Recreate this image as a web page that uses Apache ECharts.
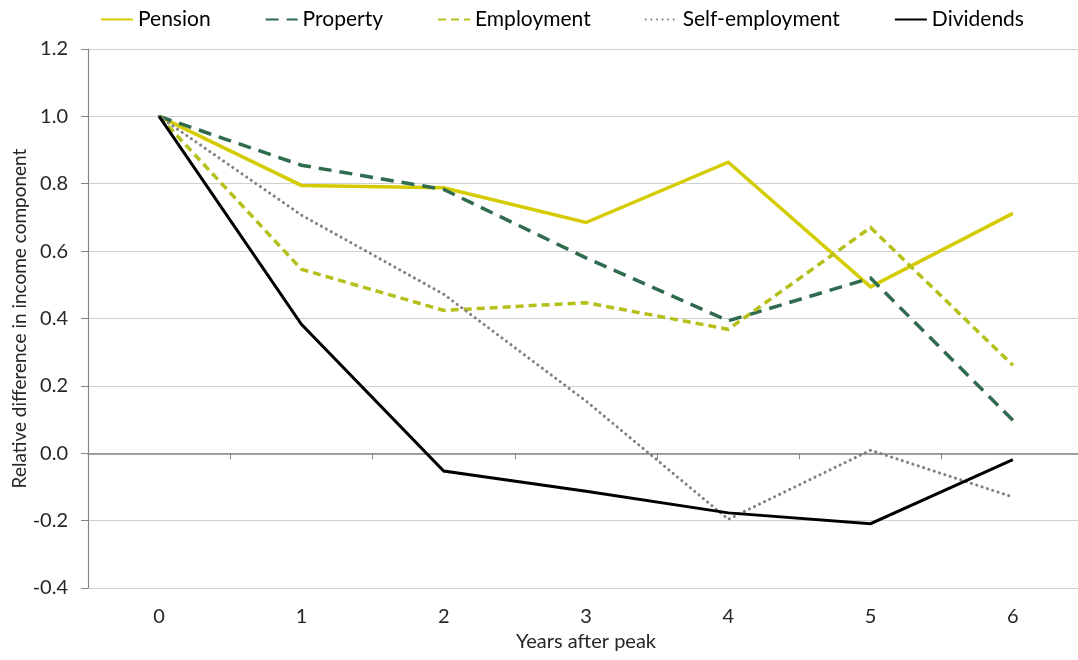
<!DOCTYPE html>
<html>
<head>
<meta charset="utf-8">
<script src="https://cdn.jsdelivr.net/npm/echarts@6/dist/echarts.min.js"></script>
<style>
  html, body { margin: 0; padding: 0; background: #fff; }
  #chart { width: 1078px; height: 660px; }
</style>
</head>
<body>
<div id="chart"></div>
<script>
// years after peak
var years = ["0", "1", "2", "3", "4", "5", "6"];
var yTicks = [-0.4, -0.2, 0.0, 0.2, 0.4, 0.6, 0.8, 1.0, 1.2];

// values
var pension = [1.0, 0.795, 0.788, 0.685, 0.864, 0.494, 0.712];
var property = [1.0, 0.855, 0.783, 0.58, 0.393, 0.52, 0.098];
var employment = [1.0, 0.546, 0.424, 0.447, 0.368, 0.67, 0.261];
var selfEmployment = [1.0, 0.707, 0.472, 0.155, -0.196, 0.009, -0.13];
var dividends = [1.0, 0.383, -0.053, -0.113, -0.177, -0.209, -0.019];

var font = "Lato";
var textColor = "#262626";

var myChart = echarts.init(document.getElementById("chart"), null, { renderer: "canvas" });

function lineSeries(name, data, color, width, type, cap) {
  return {
    name: name,
    type: "line",
    data: data,
    symbol: "none",
    xAxisIndex: 0,
    lineStyle: { color: color, width: width, type: type, cap: cap || "butt", join: "miter" },
    itemStyle: { color: color },
    z: 3
  };
}

var option = {
  animation: false,
  textStyle: { fontFamily: font },
  legend: {
    top: 4,
    left: 95,
    itemWidth: 32,
    itemHeight: 14,
    itemGap: 54,
    itemStyle: { opacity: 0 },
    textStyle: { fontFamily: font, fontSize: 21, color: "#000" },
    data: ["Pension", "Property", "Employment", "Self-employment", "Dividends"]
  },
  grid: { left: 88, width: 996, top: 49, bottom: 72, outerBoundsMode: "none" },
  xAxis: [
    {
      // axis at zero with ticks between categories
      type: "category",
      data: years,
      boundaryGap: true,
      axisLine: { onZero: true, lineStyle: { color: "#868686", width: 1.5 } },
      axisTick: { show: true, length: 6, interval: 0, lineStyle: { color: "#868686" } },
      axisLabel: { show: false },
      splitLine: { show: false }
    },
    {
      // labels at the bottom
      type: "category",
      data: years,
      position: "bottom",
      boundaryGap: true,
      axisLine: { show: false, onZero: false },
      axisTick: { show: false },
      axisLabel: { margin: 19, fontSize: 20, color: textColor, fontFamily: font },
      name: "Years after peak",
      nameLocation: "middle",
      nameGap: 44,
      nameMoveOverlap: false,
      nameTextStyle: { fontSize: 20, color: textColor, fontFamily: font }
    }
  ],
  yAxis: {
    type: "value",
    min: yTicks[0],
    max: yTicks[yTicks.length - 1],
    interval: 0.2,
    axisLine: { show: true, lineStyle: { color: "#868686", width: 1.2 } },
    axisTick: { show: true, length: 7, inside: false, lineStyle: { color: "#868686" } },
    axisLabel: {
      fontSize: 20,
      color: textColor,
      margin: 20,
      fontFamily: font,
      formatter: function (v) { return v.toFixed(1); }
    },
    splitLine: { show: true, lineStyle: { color: "#d0d0d0", width: 1.2 } },
    name: "Relative difference in income component",
    nameLocation: "middle",
    nameGap: 59,
    nameMoveOverlap: false,
    nameTextStyle: { fontSize: 19, color: textColor, fontFamily: font }
  },
  series: [
    lineSeries("Pension", pension, "#d4cc00", 3.5, "solid"),
    lineSeries("Property", property, "#2f6b4f", 3.5, [13, 8]),
    lineSeries("Employment", employment, "#b5c01a", 3.5, [8, 5]),
    lineSeries("Self-employment", selfEmployment, "#808080", 3, [0.1, 5.5], "round"),
    lineSeries("Dividends", dividends, "#000000", 3, "solid")
  ]
};

myChart.setOption(option);
</script>
</body>
</html>
